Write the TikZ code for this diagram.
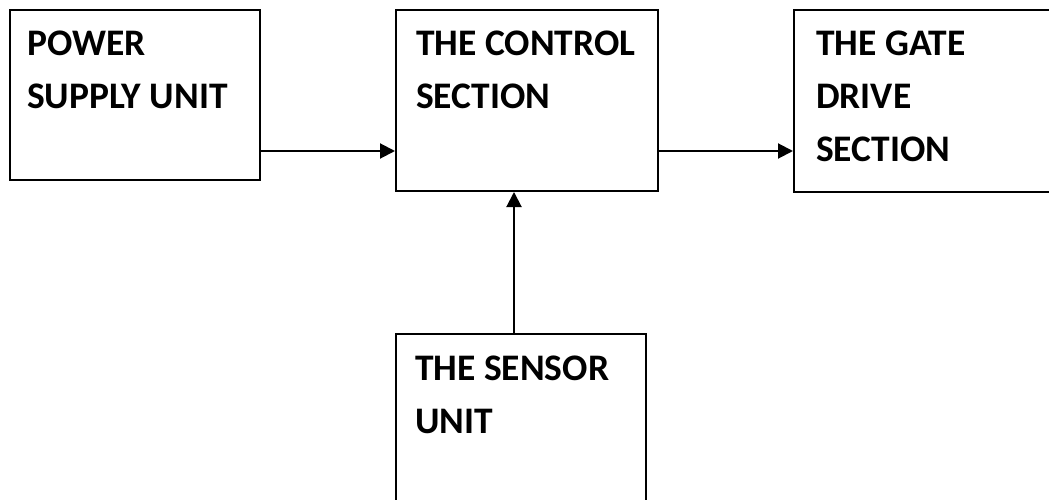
\documentclass[tikz,border=0pt]{standalone}
\usepackage{fontspec}
\setmainfont{Carlito}
\usetikzlibrary{arrows.meta,calc}
\begin{document}
\begin{tikzpicture}[x=1pt,y=1pt,
  blk/.style={draw=black,line width=2pt,fill=none,inner sep=0pt,anchor=north west},
  lbl/.style={inner sep=0pt,anchor=north west,align=left,font=\fontsize{37.5}{53}\selectfont\bfseries},
  arr/.style={line width=2pt,-{Triangle[length=15pt,width=15pt]}}]
\useasboundingbox (0,0) rectangle (1049,-500);
\clip (0,0) rectangle (1049,-500);
\node[blk,minimum width=250pt,minimum height=170pt] (ps) at (9,-9) {};
\node[blk,minimum width=262pt,minimum height=181pt] (cs) at (395,-9) {};
\node[blk,minimum width=262pt,minimum height=182pt] (gd) at (793,-9) {};
\node[blk,minimum width=250pt,minimum height=172pt] (sn) at (395,-333) {};
\node[lbl] (pst) at (27,-31) {POWER\\SUPPLY UNIT};
\node[lbl] (cst) at (416,-31) {THE CONTROL\\SECTION};
\node[lbl] (gdt) at (816,-31) {THE GATE\\DRIVE\\SECTION};
\node[lbl] (snt) at (415,-356) {THE SENSOR\\UNIT};
\draw[arr] ([yshift=30pt]ps.south east) -- ([yshift=30pt]ps.south east -| cs.west);
\draw[arr] ([yshift=41pt]cs.south east) -- ([yshift=41pt]cs.south east -| gd.west);
\draw[arr] ([xshift=-7pt]sn.north) -- ([xshift=-7pt]sn.north |- cs.south);
\end{tikzpicture}
\end{document}
